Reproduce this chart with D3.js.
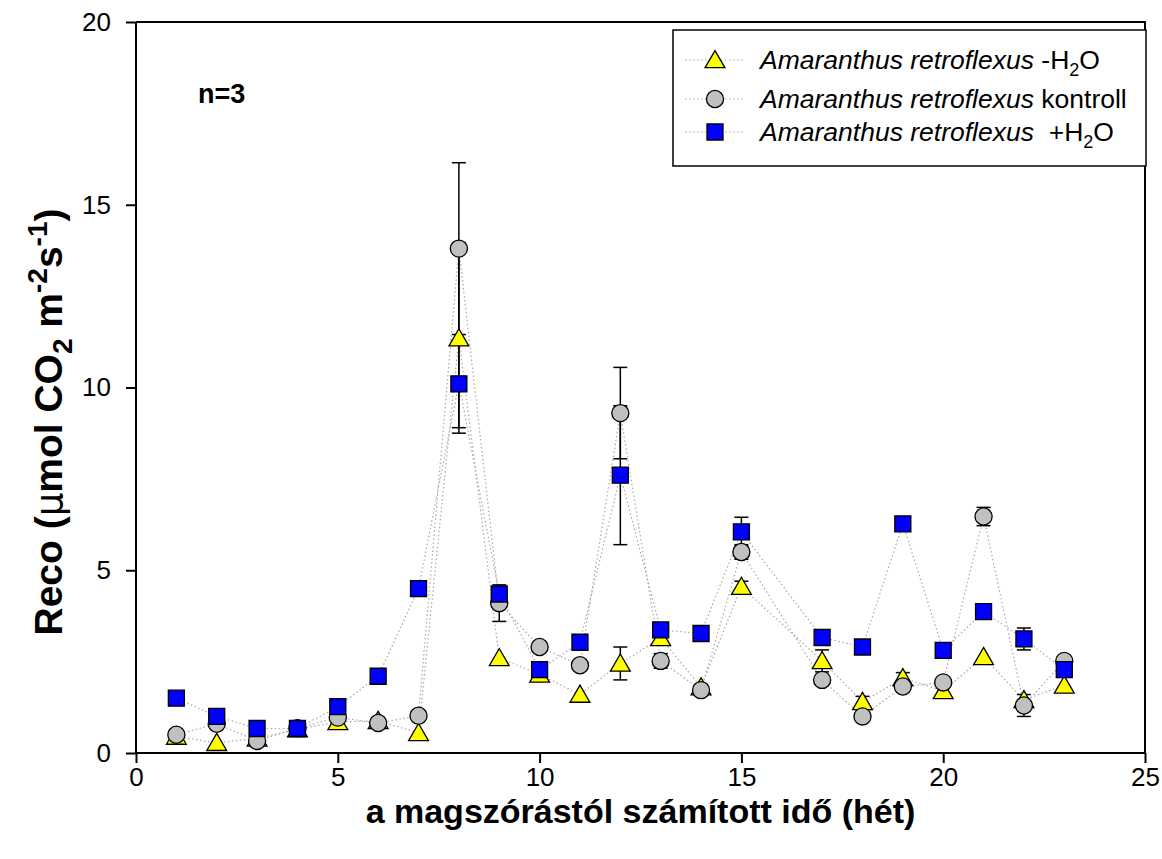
<!DOCTYPE html>
<html>
<head>
<meta charset="utf-8">
<script src="https://cdn.jsdelivr.net/npm/d3@7"></script>
<style>
  body { margin: 0; background: #fff; }
  svg text { font-family: "Liberation Sans", Arial, sans-serif; }
</style>
</head>
<body>
<svg id="chart" width="1162" height="859"></svg>
<script>
// weeks since sowing
var weeks = [1,2,3,4,5,6,7,8,9,10,11,12,13,14,15,17,18,19,20,21,22,23];

// -H2O (triangles)
var dryVals = [0.45,0.28,0.4,0.65,0.85,0.88,0.55,11.35,2.6,2.15,1.6,2.45,3.15,1.8,4.55,2.52,1.4,2.05,1.7,2.63,1.45,1.85];
var dryErr  = [0.05,0.05,0.05,0.05,0.05,0.1,0.05,2.6,0.1,0.1,0.05,0.45,0.12,0.1,0.15,0.3,0.15,0.15,0.1,0.1,0.1,0.1];

// kontroll (circles)
var ctrlVals = [0.5,0.8,0.33,0.68,0.97,0.82,1.02,13.8,4.1,2.9,2.4,9.3,2.52,1.72,5.5,2.0,1.0,1.82,1.93,6.47,1.3,2.52];
var ctrlErr  = [0.05,0.05,0.05,0.05,0.05,0.05,0.05,2.35,0.5,0.05,0.05,1.25,0.2,0.05,0.2,0.05,0.05,0.05,0.05,0.25,0.3,0.05];

// +H2O (squares)
var wetVals = [1.5,1.0,0.67,0.67,1.27,2.1,4.5,10.1,4.35,2.28,3.03,7.6,3.37,3.27,6.05,3.16,2.9,6.27,2.81,3.87,3.12,2.28];
var wetErr  = [0.05,0.05,0.05,0.05,0.05,0.05,0.05,1.2,0.1,0.1,0.05,1.9,0.05,0.05,0.4,0.05,0.05,0.05,0.05,0.05,0.3,0.05];

var xTicks = [0,5,10,15,20,25];
var yTicks = [0,5,10,15,20];

var svg = d3.select("#chart");
var margin = {left: 136, right: 17, top: 22, bottom: 106};
var W = 1162, H = 859;

var x = d3.scaleLinear().domain([0,25]).range([margin.left, W - margin.right]);
var y = d3.scaleLinear().domain([0,20]).range([H - margin.bottom, margin.top]);

var series = [
    {name: "dry", vals: dryVals, err: dryErr, shape: "triangle", fill: "#ffff00"},
    {name: "ctrl", vals: ctrlVals, err: ctrlErr, shape: "circle", fill: "#c0c0c0"},
    {name: "wet", vals: wetVals, err: wetErr, shape: "square", fill: "#0000ff"}
];

function symPath(shape) {
    if (shape === "triangle") return d3.symbol().type(d3.symbolTriangle).size(170)();
    if (shape === "circle") return d3.symbol().type(d3.symbolCircle).size(230)();
    return d3.symbol().type(d3.symbolSquare).size(256)();
}

// dotted connecting lines
var line = d3.line()
    .x(function(d) { return x(d.w); })
    .y(function(d) { return y(d.v); });

series.forEach(function(s) {
    var pts = weeks.map(function(w, i) { return {w: w, v: s.vals[i], e: s.err[i]}; });
    s.pts = pts;
    svg.append("path")
        .datum(pts)
        .attr("d", line)
        .attr("fill", "none")
        .attr("stroke", "#a8a8a8")
        .attr("stroke-width", 1.2)
        .attr("stroke-dasharray", "1.5,2.5");
});

// error bars
series.forEach(function(s) {
    var g = svg.append("g").attr("class", "err-" + s.name);
    var bars = g.selectAll("g").data(s.pts.filter(function(d) { return d.e > 0.12; })).enter().append("g");
    bars.append("line")
        .attr("x1", function(d) { return x(d.w); })
        .attr("x2", function(d) { return x(d.w); })
        .attr("y1", function(d) { return y(d.v - d.e); })
        .attr("y2", function(d) { return y(d.v + d.e); })
        .attr("stroke", "#000").attr("stroke-width", 1.5);
    [-1, 1].forEach(function(sg) {
        bars.append("line")
            .attr("x1", function(d) { return x(d.w) - 7; })
            .attr("x2", function(d) { return x(d.w) + 7; })
            .attr("y1", function(d) { return y(d.v + sg * d.e); })
            .attr("y2", function(d) { return y(d.v + sg * d.e); })
            .attr("stroke", "#000").attr("stroke-width", 1.5);
    });
});

// markers
series.forEach(function(s) {
    svg.append("g").selectAll("path")
        .data(s.pts)
        .enter()
        .append("path")
        .attr("d", symPath(s.shape))
        .attr("transform", function(d) {
            var dy = s.shape === "triangle" ? 2 : 0;
            return "translate(" + x(d.w) + "," + (y(d.v) + dy) + ")";
        })
        .attr("fill", s.fill)
        .attr("stroke", "#000")
        .attr("stroke-width", 1.3);
});

// frame
svg.append("path")
    .attr("d", "M" + x(0) + "," + y(20) + "H" + x(25) + "V" + y(0))
    .attr("fill", "none").attr("stroke", "#000").attr("stroke-width", 2);

// axes
var xAxis = svg.append("g")
    .attr("transform", "translate(0," + y(0) + ")")
    .call(d3.axisBottom(x).tickValues(xTicks).tickSize(10).tickPadding(5).tickFormat(d3.format("d")));
var yAxis = svg.append("g")
    .attr("transform", "translate(" + x(0) + ",0)")
    .call(d3.axisLeft(y).tickValues(yTicks).tickSize(10).tickPadding(15).tickFormat(d3.format("d")));

[xAxis, yAxis].forEach(function(a) {
    a.select(".domain").attr("stroke-width", 2).attr("d", a === xAxis
        ? "M" + x(0) + ",0H" + x(25)
        : "M0," + y(0) + "V" + y(20));
    a.selectAll(".tick line").attr("stroke-width", 2);
    a.selectAll(".tick text").attr("font-size", 26).attr("fill", "#000")
        .style("font-family", "'Liberation Sans', Arial, sans-serif");
});

// axis titles
svg.append("text")
    .attr("x", (x(0) + x(25)) / 2)
    .attr("y", 823)
    .attr("text-anchor", "middle")
    .attr("font-size", 34).attr("font-weight", "bold")
    .text("a magszórástól számított idő (hét)");

var yt = svg.append("text")
    .attr("transform", "translate(62,422) rotate(-90)")
    .attr("text-anchor", "middle")
    .attr("font-size", 39).attr("font-weight", "bold");
yt.append("tspan").text("Reco (");
yt.append("tspan").text("\u03bc").style("font-family", "'DejaVu Sans', sans-serif").attr("font-weight", "normal").attr("font-size", 37);
yt.append("tspan").text("mol CO");
yt.append("tspan").text("2").attr("font-size", 28).attr("dy", 10);
yt.append("tspan").text(" m").attr("dy", -10);
yt.append("tspan").text("-2").attr("font-size", 28).attr("dy", -15);
yt.append("tspan").text("s").attr("dy", 15);
yt.append("tspan").text("-1").attr("font-size", 28).attr("dy", -15);
yt.append("tspan").text(")").attr("dy", 15);

svg.append("text")
    .attr("x", 198).attr("y", 103)
    .attr("font-size", 27).attr("font-weight", "bold")
    .text("n=3");

// legend
var legend = svg.append("g");
legend.append("rect")
    .attr("x", 673).attr("y", 30).attr("width", 473).attr("height", 136)
    .attr("fill", "#fff").attr("stroke", "#000").attr("stroke-width", 1.5);

var legendRows = [
    {s: series[0], y: 60, italic: "Amaranthus retroflexus", rest: " -H", sub: "2", tail: "O"},
    {s: series[1], y: 99, italic: "Amaranthus retroflexus", rest: " kontroll", sub: null, tail: ""},
    {s: series[2], y: 132, italic: "Amaranthus retroflexus", rest: "  +H", sub: "2", tail: "O"}
];

legendRows.forEach(function(r) {
    legend.append("line")
        .attr("x1", 685).attr("x2", 745).attr("y1", r.y).attr("y2", r.y)
        .attr("stroke", "#a8a8a8").attr("stroke-width", 1.2).attr("stroke-dasharray", "1.5,2.5");
    legend.append("path")
        .attr("d", symPath(r.s.shape))
        .attr("transform", "translate(715," + (r.y + (r.s.shape === "triangle" ? 2 : 0)) + ")")
        .attr("fill", r.s.fill).attr("stroke", "#000").attr("stroke-width", 1.3);
    var t = legend.append("text")
        .attr("x", 760).attr("y", r.y + 9)
        .attr("font-size", 26.5)
        .style("white-space", "pre");
    t.append("tspan").text(r.italic).attr("font-style", "italic");
    t.append("tspan").text(r.rest);
    if (r.sub) {
        t.append("tspan").text(r.sub).attr("font-size", 18).attr("dy", 7);
        t.append("tspan").text(r.tail).attr("dy", -7);
    }
});
</script>
</body>
</html>
